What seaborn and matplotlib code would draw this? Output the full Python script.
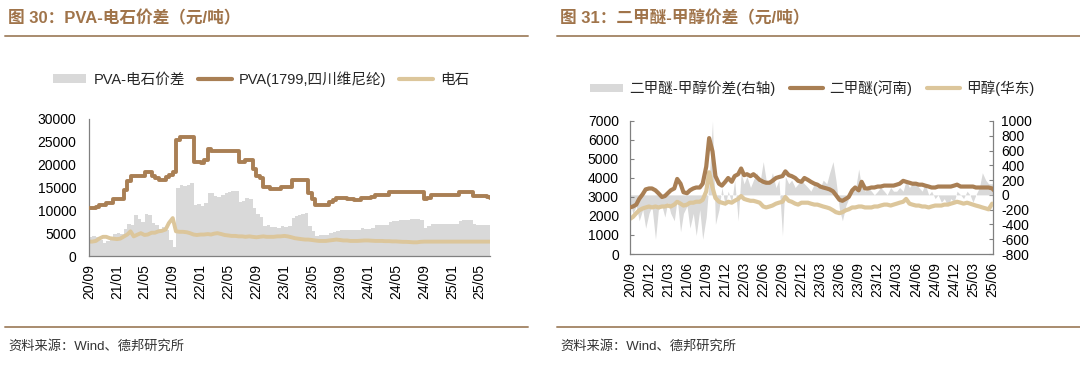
import numpy as np
import pandas as pd
import matplotlib
matplotlib.use("Agg")
import matplotlib.pyplot as plt
from matplotlib.patches import Patch
from matplotlib.lines import Line2D
import seaborn as sns

# ---------------- data (semi-monthly, 1st & 15th, Sep-2020 .. Jun-2025) ----------------
dates = pd.date_range("2020-09-01", periods=116, freq="SMS")

pva = [10500, 10600, 10800, 11200, 11200, 11600, 11600, 12400,
       12400, 12400, 14500, 16500, 17500, 17500, 17500, 17500, 18300, 18300, 17500, 17000,
       16600, 16600, 17200, 17800, 18500, 25400, 26000, 26000, 26000, 26000, 20600, 20600,
       20300, 21000, 23500, 23100, 23000, 23000, 23000, 23000, 23000, 23000, 23000, 20600,
       20600, 21000, 21000, 19000, 17500, 17000, 15200, 15200, 14700, 14700, 14700, 15200,
       15200, 15200, 16600, 16600, 16600, 16600, 16600, 13700, 12500, 11200, 11200, 11200,
       11200, 11800, 12300, 12600, 12600, 12600, 12400, 12400, 12300, 12300, 12800, 12800,
       12800, 12900, 13300, 13300, 13300, 13300, 14000, 14100, 14100, 14100, 14100, 14100,
       14100, 14100, 14100, 14100, 12500, 12800, 13300, 13300, 13300, 13300, 13300, 13300,
       13300, 13300, 14000, 14100, 14100, 14100, 13200, 13100, 13100, 13100, 13000, 12700]

carbide = [3150, 3150, 3300, 3800, 4200, 4200, 3900, 3800,
           3700, 3800, 4300, 4700, 5400, 4300, 4700, 5000, 4600, 4700, 5100, 5100,
           5400, 5500, 5800, 7200, 8300, 5400, 5300, 5300, 5200, 5000, 4700, 4600,
           4700, 4700, 4800, 4700, 4900, 5000, 4800, 4600, 4500, 4400, 4400, 4300,
           4300, 4200, 4300, 4200, 4100, 4200, 4300, 4200, 4200, 4200, 4300, 4300,
           4400, 4300, 4100, 3900, 3800, 3700, 3600, 3600, 3500, 3400, 3300, 3300,
           3300, 3400, 3500, 3600, 3500, 3400, 3400, 3300, 3300, 3300, 3350, 3400,
           3400, 3350, 3300, 3300, 3300, 3250, 3250, 3200, 3200, 3150, 3100, 3100,
           3050, 3000, 3000, 3100, 3150, 3150, 3150, 3150, 3150, 3150, 3150, 3150,
           3150, 3150, 3150, 3150, 3150, 3150, 3150, 3150, 3150, 3150, 3150, 3150]

pva_spread = [4200, 4300, 4200, 3600, 2900, 3200, 3800, 4800,
              5000, 4800, 5900, 7100, 6700, 8900, 8100, 7500, 9100, 8900, 7300, 6800,
              6000, 6300, 5600, 3400, 1900, 14800, 15600, 15400, 15600, 16000, 11200, 11400,
              10900, 11600, 13900, 13700, 13200, 13000, 13400, 13800, 14000, 14200, 14200, 11800,
              12000, 12600, 12400, 10600, 9300, 8600, 6600, 6800, 6300, 6300, 6100, 6600,
              6400, 6600, 8400, 8800, 9000, 9200, 9400, 6500, 5500, 4400, 4600, 4600,
              4600, 5000, 5300, 5400, 5600, 5800, 5600, 5800, 5700, 5700, 6100, 6000,
              6000, 6200, 6700, 6700, 6700, 6800, 7500, 7700, 7700, 7800, 7900, 7900,
              8000, 8100, 8100, 7900, 6200, 6500, 7000, 7000, 7000, 7000, 7000, 7000,
              7000, 7000, 7700, 7800, 7800, 7800, 6900, 6800, 6800, 6800, 6700, 6500]

dme = [2450, 2500, 2600, 2900, 3150, 3400, 3450, 3450,
       3350, 3200, 3000, 3050, 3200, 3350, 3450, 3950, 3700, 3250, 3200, 3350,
       3450, 3500, 3500, 3700, 4600, 6100, 5400, 4100, 3700, 3600, 3800, 4000,
       3800, 4100, 4200, 4500, 4150, 4200, 4100, 4200, 4050, 3900, 3800, 3750,
       3750, 3850, 4000, 4050, 4100, 4350, 4150, 4100, 4000, 3850, 3800, 4000,
       3900, 3800, 3700, 3650, 3550, 3500, 3450, 3400, 3300, 3100, 2850, 2800,
       2900, 3000, 3350, 3500, 3350, 3800, 3450, 3450, 3500, 3500, 3550, 3550,
       3600, 3600, 3600, 3600, 3650, 3700, 3850, 3800, 3750, 3700, 3700, 3650,
       3650, 3600, 3550, 3500, 3500, 3550, 3550, 3550, 3550, 3550, 3600, 3650,
       3550, 3550, 3550, 3550, 3550, 3500, 3500, 3500, 3500, 3500, 3450, 3300]

methanol = [1850, 1950, 2150, 2300, 2400, 2450, 2500, 2450,
            2500, 2450, 2500, 2500, 2550, 2500, 2600, 2750, 2650, 2550, 2600, 2700,
            2700, 2750, 2750, 2850, 3300, 4300, 3500, 2950, 2750, 2700, 2650, 2750,
            2700, 2800, 2900, 3050, 2900, 2850, 2800, 2800, 2750, 2700, 2500, 2450,
            2500, 2550, 2650, 2700, 2750, 3000, 2800, 2750, 2650, 2600, 2700, 2700,
            2700, 2650, 2600, 2600, 2550, 2500, 2450, 2400, 2300, 2200, 2150, 2200,
            2300, 2350, 2450, 2450, 2500, 2500, 2450, 2450, 2450, 2500, 2500, 2550,
            2600, 2600, 2550, 2600, 2650, 2700, 2750, 2900, 2650, 2600, 2550, 2550,
            2500, 2500, 2450, 2500, 2550, 2550, 2550, 2600, 2600, 2650, 2700, 2750,
            2700, 2650, 2700, 2650, 2600, 2550, 2500, 2450, 2400, 2350, 2650, 2550]

dme_spread = [-100, -250, -150, -350, -200, -450, -250, -150,
              -600, -200, -150, -300, -100, -250, -350, -50, -500, -250, -150, -450,
              -250, -550, -200, -600, -300, 200, 1000, -400, -200, 100, -150, 50,
              -100, 200, -350, 300, 150, 250, 100, 200, 300, 150, 450, 200,
              150, 300, 100, 200, -550, 250, 150, 200, 100, 150, 200, 150,
              100, 50, 150, 100, 100, 200, 150, 300, 450, 200, -200, -350,
              -150, -50, 100, 50, 350, 100, 50, 100, 50, 0, 50, 100,
              50, 0, 100, 50, 50, 100, 50, 200, 100, 150, 150, 100,
              50, 150, 0, 50, -50, 0, -100, -50, -150, -50, -100, 50,
              0, -50, 50, 0, -100, 0, 100, 300, 200, 150, 150, 100]

left_ticks = pd.date_range("2020-09-01", "2025-05-01", freq="4MS")
left_tick_labels = ["20/09", "21/01", "21/05", "21/09", "22/01", "22/05", "22/09", "23/01",
                    "23/05", "23/09", "24/01", "24/05", "24/09", "25/01", "25/05"]
right_ticks = pd.date_range("2020-09-01", "2025-06-01", freq="3MS")
right_tick_labels = ["20/09", "20/12", "21/03", "21/06", "21/09", "21/12", "22/03", "22/06",
                     "22/09", "22/12", "23/03", "23/06", "23/09", "23/12", "24/03", "24/06",
                     "24/09", "24/12", "25/03", "25/06"]

left_title = "图 30：PVA-电石价差（元/吨）"
right_title = "图 31：二甲醚-甲醇价差（元/吨）"
source = "资料来源：Wind、德邦研究所"
left_labels = ["PVA-电石价差", "PVA(1799,四川维尼纶)", "电石"]
right_labels = ["二甲醚-甲醇价差(右轴)", "二甲醚(河南)", "甲醇(华东)"]

# ---------------- style ----------------
sns.set_theme(style="white")
plt.rcParams["font.family"] = ["Liberation Sans", "Noto Sans CJK SC", "DejaVu Sans"]
plt.rcParams["axes.unicode_minus"] = False

BROWN = "#a97f54"
TAN = "#dcc69b"
GREY = "#d9d9d9"
TITLE_C = "#a0744a"
RULE_C = "#a88b6e"
SPINE_C = "#808080"

W, H = 1080, 372
fig = plt.figure(figsize=(W / 100, H / 100), dpi=100)
fig.patch.set_facecolor("white")


def fx(px):
    return px / W


def fy(py):
    return 1 - py / H


def style_axes(ax):
    for s in ["top", "right"]:
        ax.spines[s].set_visible(False)
    for s in ["left", "bottom"]:
        ax.spines[s].set_color(SPINE_C)
        ax.spines[s].set_linewidth(0.9)
    ax.tick_params(axis="x", direction="in", length=4, width=0.8, color=SPINE_C,
                   labelsize=10, pad=6, labelrotation=90, labelcolor="#000000")
    ax.tick_params(axis="y", direction="out", length=3, width=0.8, color=SPINE_C,
                   labelsize=10, pad=6, labelcolor="#000000")
    ax.grid(False)
    ax.set_xlabel("")
    ax.set_ylabel("")


# ---------------- left chart ----------------
axL = fig.add_axes([fx(89), fy(256), fx(490) - fx(89), (256 - 119) / H])
axL.fill_between(dates, 0, pva_spread, step="post", color=GREY, lw=0, zorder=1)
sns.lineplot(x=dates, y=pva, ax=axL, color=BROWN, lw=2.8, drawstyle="steps-post",
             legend=False, zorder=3)
sns.lineplot(x=dates, y=carbide, ax=axL, color=TAN, lw=2.8, legend=False, zorder=2)
axL.set_xlim(dates[0], dates[-1])
axL.set_ylim(0, 30000)
axL.set_yticks(np.arange(0, 30001, 5000))
axL.set_xticks(left_ticks)
axL.set_xticklabels(left_tick_labels)
style_axes(axL)

# ---------------- right chart ----------------
axR = fig.add_axes([fx(630), fy(254), fx(993) - fx(630), (254 - 121) / H])
axR2 = axR.twinx()
axR2.fill_between(dates, 0, dme_spread, color=GREY, lw=0)
axR2.set_ylim(-800, 1000)
axR2.set_yticks(np.arange(-800, 1001, 200))
sns.lineplot(x=dates, y=dme, ax=axR, color=BROWN, lw=3.0, legend=False, zorder=3)
sns.lineplot(x=dates, y=methanol, ax=axR, color=TAN, lw=3.0, legend=False, zorder=2)
axR.set_zorder(axR2.get_zorder() + 1)
axR.patch.set_visible(False)
axR.set_xlim(dates[0], pd.Timestamp("2025-06-05"))
axR.set_ylim(0, 7000)
axR.set_yticks(np.arange(0, 7001, 1000))
axR.set_xticks(right_ticks)
axR.set_xticklabels(right_tick_labels)
style_axes(axR)
axR.tick_params(axis="y", direction="in", pad=8)
for s in ["top", "left", "bottom"]:
    axR2.spines[s].set_visible(False)
axR2.spines["right"].set_visible(True)
axR2.spines["right"].set_color(SPINE_C)
axR2.spines["right"].set_linewidth(0.9)
axR2.tick_params(axis="y", direction="in", length=3, width=0.8, color=SPINE_C,
                 labelsize=10, pad=6, labelcolor="#000000")
axR2.grid(False)
axR2.set_ylabel("")

# ---------------- legends ----------------
prop = {"family": ["Liberation Sans", "Noto Sans CJK SC"], "size": 10.5}
hL = [Patch(facecolor=GREY, edgecolor="none"),
      Line2D([], [], color=BROWN, lw=3),
      Line2D([], [], color=TAN, lw=3)]
fig.legend(hL, left_labels, loc="center", bbox_to_anchor=(fx(261), fy(79)), ncol=3,
           frameon=False, handlelength=2.3, handleheight=0.5, handletextpad=0.5,
           columnspacing=0.9, prop=prop)
hR = [Patch(facecolor=GREY, edgecolor="none"),
      Line2D([], [], color=BROWN, lw=3),
      Line2D([], [], color=TAN, lw=3)]
fig.legend(hR, right_labels, loc="center", bbox_to_anchor=(fx(812), fy(88)), ncol=3,
           frameon=False, handlelength=2.3, handleheight=0.5, handletextpad=0.4,
           columnspacing=1.0, prop=prop)

# ---------------- titles, rules, source ----------------
fig.text(fx(8), fy(18), left_title, fontsize=12, fontweight="bold", color=TITLE_C, va="center")
fig.text(fx(560), fy(18), right_title, fontsize=12, fontweight="bold", color=TITLE_C, va="center")
for x0, x1 in [(5, 528), (557, 1080)]:
    fig.add_artist(Line2D([fx(x0), fx(x1)], [fy(36)] * 2, color=RULE_C, lw=1.4))
    fig.add_artist(Line2D([fx(x0), fx(x1)], [fy(327)] * 2, color=RULE_C, lw=1.4))
fig.text(fx(8), fy(346), source, fontsize=9.5, color="#333333", va="center")
fig.text(fx(560), fy(346), source, fontsize=9.5, color="#333333", va="center")

fig.savefig("out.png", dpi=100, facecolor="white")
